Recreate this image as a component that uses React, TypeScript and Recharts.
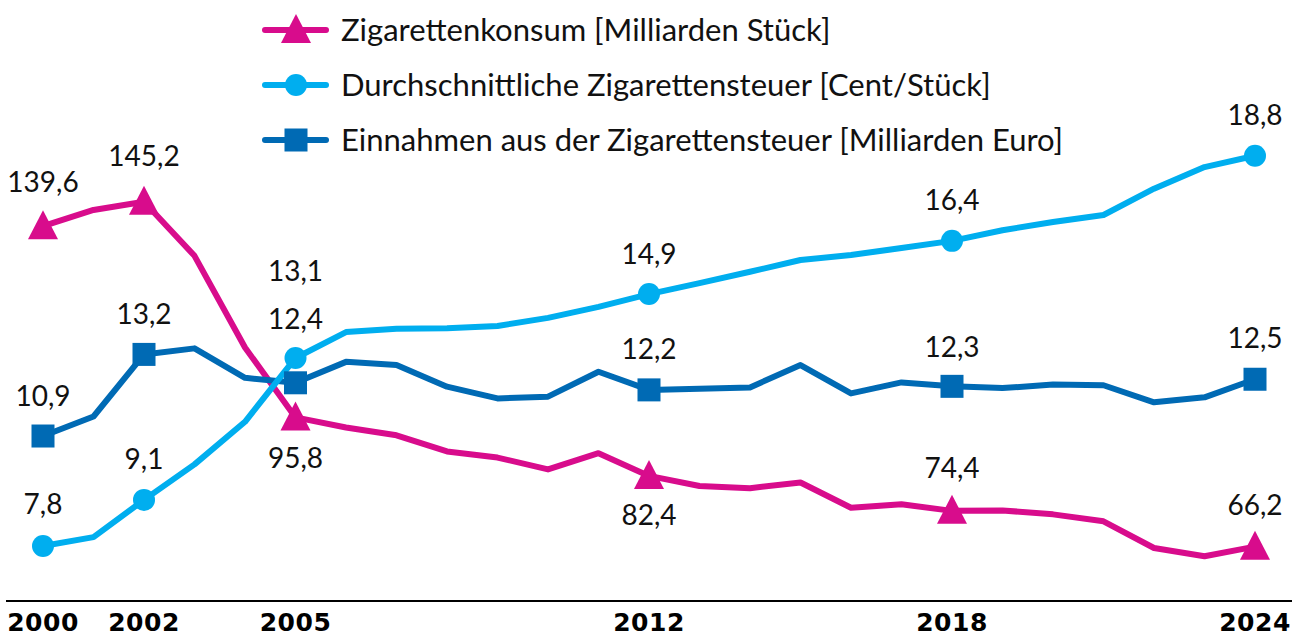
import React from 'react';
import { LineChart, Line, XAxis, YAxis } from 'recharts';

// ---- data ----
const years = [2000, 2001, 2002, 2003, 2004, 2005, 2006, 2007, 2008, 2009, 2010, 2011, 2012, 2013, 2014, 2015, 2016, 2017, 2018, 2019, 2020, 2021, 2022, 2023, 2024];
const consumption = [139.6, 143.3, 145.2, 132.8, 111.8, 95.8, 93.5, 91.7, 88.0, 86.6, 83.9, 87.6, 82.4, 80.1, 79.6, 80.9, 75.1, 75.9, 74.4, 74.5, 73.6, 72.0, 65.9, 64.0, 66.2];
const avgTax = [7.8, 8.05, 9.1, 10.1, 11.3, 13.1, 13.83, 13.92, 13.94, 14.0, 14.23, 14.54, 14.9, 15.21, 15.53, 15.86, 16.0, 16.2, 16.4, 16.7, 16.93, 17.13, 17.87, 18.48, 18.8];
const revenue = [10.9, 11.45, 13.2, 13.37, 12.54, 12.4, 12.99, 12.9, 12.29, 11.96, 12.01, 12.71, 12.2, 12.23, 12.27, 12.9, 12.1, 12.41, 12.3, 12.25, 12.35, 12.33, 11.85, 11.99, 12.5];
const markerYears = [2000, 2002, 2005, 2012, 2018, 2024];
const tickYears = [2000, 2002, 2005, 2012, 2018, 2024];
const seriesNames = {
  consumption: 'Zigarettenkonsum [Milliarden Stück]',
  avgTax: 'Durchschnittliche Zigarettensteuer [Cent/Stück]',
  revenue: 'Einnahmen aus der Zigarettensteuer [Milliarden Euro]',
};

const data = years.map((year, i) => ({
  year,
  consumption: consumption[i],
  avgTax: avgTax[i],
  revenue: revenue[i],
}));

// ---- styles ----
const FONT = 'Lato, "Open Sans", sans-serif';
const TICK_FONT = '"DejaVu Sans", Lato, sans-serif';
const PINK = '#D80C8C';
const LIGHT = '#00AEEF';
const DARK = '#006AB4';
const LABEL_SIZE = 28;

// vertical offsets of value labels (center relative to point)
const labelOffsets: Record<string, Record<number, number>> = {
  consumption: { 2000: -45, 2002: -46, 2005: 40, 2012: 39, 2018: -43, 2024: -42 },
  avgTax: { 2000: -43, 2002: -41, 2005: -87, 2012: -41, 2018: -41, 2024: -41 },
  revenue: { 2000: -41, 2002: -41, 2005: -64, 2012: -41, 2018: -40, 2024: -42 },
};

const fmt = (v: number) => v.toFixed(1).replace('.', ',');

type Shape = 'triangle' | 'circle' | 'square';

const drawMarker = (shape: Shape, x: number, y: number, color: string, key?: string) => {
  if (shape === 'triangle') {
    return (
      <polygon key={key} points={`${x},${y - 16} ${x - 15},${y + 13} ${x + 15},${y + 13}`} fill={color} />
    );
  }
  if (shape === 'circle') {
    return <circle key={key} cx={x} cy={y} r={11} fill={color} />;
  }
  return <rect key={key} x={x - 11.5} y={y - 11.5} width={23} height={23} fill={color} />;
};

const makeDot = (shape: Shape, color: string) => (props: any) => {
  const { cx, cy, payload, index } = props;
  if (!payload || !markerYears.includes(payload.year)) return <g key={`d-${shape}-${index}`} />;
  return drawMarker(shape, cx, cy, color, `d-${shape}-${index}`);
};

const makeLabel = (key: string) => (props: any) => {
  const { x, y, value, index } = props;
  const year = years[index];
  if (!markerYears.includes(year)) return <g key={`l-${key}-${index}`} />;
  const off = labelOffsets[key][year];
  return (
    <text
      key={`l-${key}-${index}`}
      x={x}
      y={y + off + 10.5}
      textAnchor="middle"
      fontFamily={FONT}
      fontSize={LABEL_SIZE}
      fill="#111"
    >
      {fmt(value)}
    </text>
  );
};

const legendRows: { key: keyof typeof seriesNames; color: string; shape: Shape }[] = [
  { key: 'consumption', color: PINK, shape: 'triangle' },
  { key: 'avgTax', color: LIGHT, shape: 'circle' },
  { key: 'revenue', color: DARK, shape: 'square' },
];

export default function App() {
  return (
    <div style={{ position: 'absolute', left: 0, top: 0, width: 1305, height: 639, background: '#fff' }}>
      <LineChart width={1305} height={639} data={data} margin={{ top: 20, right: 13, left: 6, bottom: 8 }}>
        <XAxis
          dataKey="year"
          type="number"
          domain={[2000, 2024]}
          ticks={tickYears}
          interval={0}
          padding={{ left: 37, right: 37 }}
          axisLine={{ stroke: '#000', strokeWidth: 2 }}
          tickLine={false}
          tick={{ fill: '#000', fontSize: 25, fontWeight: 700, fontFamily: TICK_FONT, letterSpacing: 0.5 }}
          tickMargin={6}
          height={30}
        />
        <YAxis yAxisId="blue" hide domain={[6.25, 22.625]} allowDataOverflow />
        <YAxis yAxisId="pink" hide orientation="right" domain={[53.76, 186.8]} allowDataOverflow />
        <Line
          yAxisId="pink"
          dataKey="consumption"
          name={seriesNames.consumption}
          stroke={PINK}
          strokeWidth={6}
          strokeLinejoin="round"
          dot={makeDot('triangle', PINK)}
          activeDot={false}
          label={makeLabel('consumption')}
          isAnimationActive={false}
        />
        <Line
          yAxisId="blue"
          dataKey="revenue"
          name={seriesNames.revenue}
          stroke={DARK}
          strokeWidth={6}
          strokeLinejoin="round"
          dot={makeDot('square', DARK)}
          activeDot={false}
          label={makeLabel('revenue')}
          isAnimationActive={false}
        />
        <Line
          yAxisId="blue"
          dataKey="avgTax"
          name={seriesNames.avgTax}
          stroke={LIGHT}
          strokeWidth={6}
          strokeLinejoin="round"
          dot={makeDot('circle', LIGHT)}
          activeDot={false}
          label={makeLabel('avgTax')}
          isAnimationActive={false}
        />
      </LineChart>
      <svg width={1305} height={170} style={{ position: 'absolute', left: 0, top: 0 }}>
        {legendRows.map((r, i) => {
          const cy = 30 + i * 55;
          return (
            <g key={r.key}>
              <line x1={265} x2={326} y1={cy} y2={cy} stroke={r.color} strokeWidth={6} strokeLinecap="round" />
              {drawMarker(r.shape, 296, cy, r.color)}
              <text x={341} y={cy + 11} fontFamily={FONT} fontSize={31} fill="#111">
                {seriesNames[r.key]}
              </text>
            </g>
          );
        })}
      </svg>
    </div>
  );
}
